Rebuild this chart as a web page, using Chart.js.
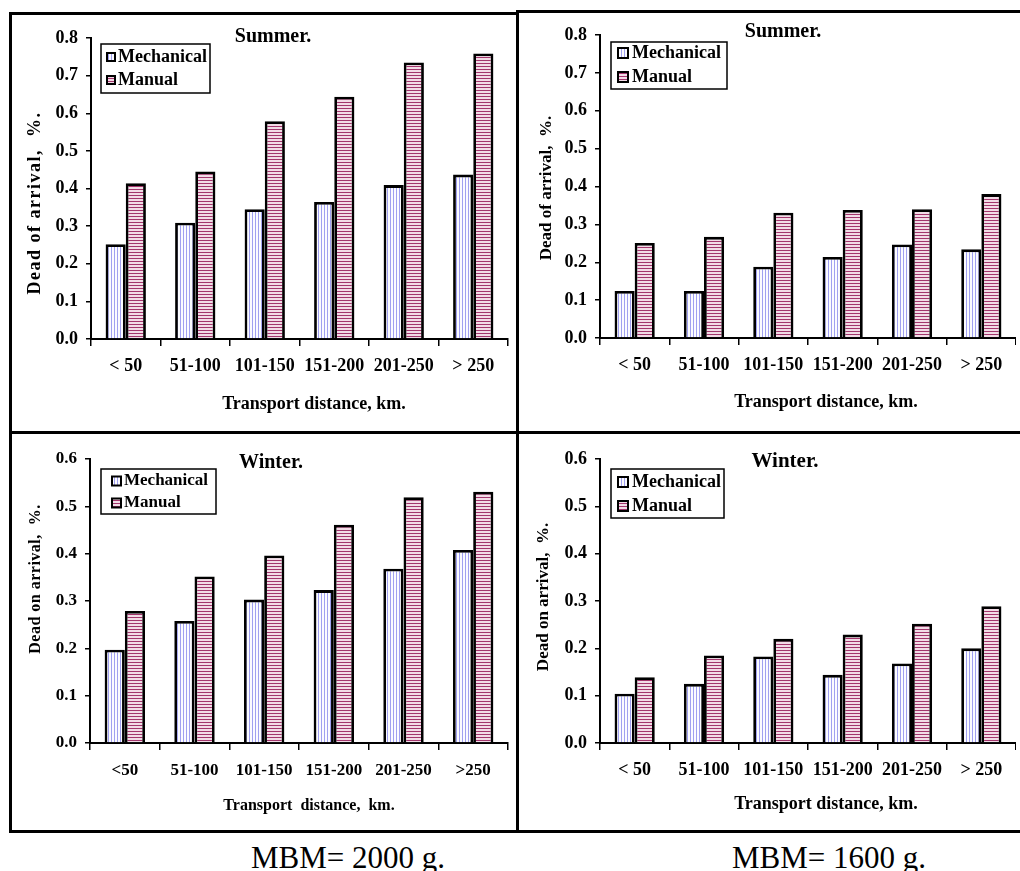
<!DOCTYPE html>
<html>
<head>
<meta charset="utf-8">
<script src="https://cdn.jsdelivr.net/npm/chart.js@4.4.1/dist/chart.umd.min.js"></script>
<style>
  html, body { margin: 0; padding: 0; background: #fff; }
  body { width: 1020px; height: 871px; position: relative; overflow: hidden; font-family: "Liberation Serif", "Times New Roman", serif; }
  canvas { position: absolute; }
  .ln { position: absolute; background: #000; }
  .cap { position: absolute; font-family: "Liberation Serif", serif; font-size: 31px; color: #000; white-space: nowrap; transform: translateX(-50%); }
</style>
</head>
<body>
<div class="ln" style="left:9px;top:12px;width:510px;height:3px"></div>
<div class="ln" style="left:517px;top:10px;width:503px;height:3px"></div>
<div class="ln" style="left:9px;top:12px;width:3px;height:821px"></div>
<div class="ln" style="left:516px;top:10px;width:3px;height:823px"></div>
<div class="ln" style="left:9px;top:431px;width:1011px;height:3px"></div>
<div class="ln" style="left:9px;top:830px;width:1011px;height:3px"></div>

<canvas id="c1" width="504" height="415" style="left:12px;top:15px"></canvas>
<canvas id="c2" width="497" height="417" style="left:519px;top:13px"></canvas>
<canvas id="c3" width="504" height="396" style="left:12px;top:434px"></canvas>
<canvas id="c4" width="497" height="396" style="left:519px;top:434px"></canvas>

<div class="cap" style="left:348px;top:840px">MBM= 2000 g.</div>
<div class="cap" style="left:829px;top:840px">MBM= 1600 g.</div>

<script>
// ---------- DATA ----------
const categoriesA = ["< 50", "51-100", "101-150", "151-200", "201-250", "> 250"];
const categoriesB = ["<50", "51-100", "101-150", "151-200", "201-250", ">250"];
const seriesNames = ["Mechanical", "Manual"];

// MBM = 2000 g, Summer
const summer2000Mechanical = [0.252, 0.309, 0.345, 0.364, 0.409, 0.437];
const summer2000Manual     = [0.414, 0.445, 0.579, 0.644, 0.735, 0.759];
// MBM = 1600 g, Summer
const summer1600Mechanical = [0.124, 0.124, 0.188, 0.214, 0.247, 0.234];
const summer1600Manual     = [0.251, 0.267, 0.331, 0.338, 0.340, 0.380];
// MBM = 2000 g, Winter
const winter2000Mechanical = [0.197, 0.258, 0.303, 0.323, 0.368, 0.408];
const winter2000Manual     = [0.279, 0.352, 0.396, 0.461, 0.519, 0.531];
// MBM = 1600 g, Winter
const winter1600Mechanical = [0.104, 0.125, 0.183, 0.144, 0.168, 0.200];
const winter1600Manual     = [0.139, 0.185, 0.220, 0.229, 0.252, 0.289];

const summerMax = 0.8, winterMax = 0.6, tickStep = 0.1;

// ---------- PATTERNS ----------
function makePattern(kind) {
  const t = document.createElement('canvas');
  t.width = 3; t.height = 3;
  const g = t.getContext('2d');
  if (kind === 'v') {
    g.fillStyle = '#fbfbff'; g.fillRect(0, 0, 3, 3);
    g.fillStyle = '#a0a0f0'; g.fillRect(0, 0, 1, 3);
  } else {
    g.fillStyle = '#f2dbe6'; g.fillRect(0, 0, 3, 3);
    g.fillStyle = '#a2356c'; g.fillRect(0, 0, 3, 1);
  }
  return document.createElement('canvas').getContext('2d').createPattern(t, 'repeat');
}
const patMech = makePattern('v');
const patMan = makePattern('h');

const FONT = '"Liberation Serif", "Times New Roman", serif';

// ---------- ANNOTATION PLUGIN ----------
const panelPlugin = {
  id: 'panelDeco',
  afterDraw(chart) {
    const p = chart.options.plugins.panelDeco;
    if (!p) return;
    const ctx = chart.ctx;
    const ox = p.canvasLeft, oy = p.canvasTop;
    ctx.save();
    ctx.fillStyle = '#000';
    // heading
    ctx.font = 'bold ' + p.headSize + 'px ' + FONT;
    ctx.textAlign = 'center'; ctx.textBaseline = 'middle';
    ctx.fillText(p.heading, p.headX - ox, p.headY - oy);
    // x title
    ctx.font = 'bold ' + p.xtSize + 'px ' + FONT;
    ctx.fillText(p.xTitle, p.xtX - ox, p.xtY - oy);
    // y title
    ctx.save();
    ctx.translate(p.ytX - ox, p.ytY - oy);
    ctx.rotate(-Math.PI / 2);
    ctx.font = 'bold ' + p.ytSize + 'px ' + FONT;
    if ('letterSpacing' in ctx) ctx.letterSpacing = p.ytSpacing + 'px';
    ctx.fillText(p.yTitle, 0, 0);
    ctx.restore();
    // legend
    const L = p.legend;
    ctx.lineWidth = 1.5; ctx.strokeStyle = '#000';
    ctx.strokeRect(L.x1 - ox, L.y1 - oy, L.x2 - L.x1, L.y2 - L.y1);
    ctx.font = 'bold ' + L.size + 'px ' + FONT;
    ctx.textAlign = 'left'; ctx.textBaseline = 'middle';
    chart.data.datasets.forEach((ds, i) => {
      const cy = L.rows[i] - oy;
      const sx = L.sx - ox;
      ctx.fillStyle = ds.backgroundColor;
      ctx.fillRect(sx, cy - L.sw / 2, L.sw, L.sw);
      ctx.lineWidth = 2; ctx.strokeStyle = '#000';
      ctx.strokeRect(sx, cy - L.sw / 2, L.sw, L.sw);
      ctx.fillStyle = '#000';
      ctx.fillText(ds.label, L.tx - ox, cy);
    });
    ctx.restore();
  }
};

function buildChart(id, canvasRect, plotRect, cats, mech, man, ymax, deco, tickSize) {
  const padTop = plotRect.top - canvasRect.top;
  const padRight = (canvasRect.left + canvasRect.width) - plotRect.right;
  const yW = plotRect.left - canvasRect.left;
  const xH = (canvasRect.top + canvasRect.height) - plotRect.bottom;
  deco.canvasLeft = canvasRect.left; deco.canvasTop = canvasRect.top;
  return new Chart(document.getElementById(id), {
    type: 'bar',
    data: {
      labels: cats,
      datasets: [
        { label: seriesNames[0], data: mech, backgroundColor: patMech, borderColor: '#000', borderWidth: 2.8 },
        { label: seriesNames[1], data: man, backgroundColor: patMan, borderColor: '#000', borderWidth: 2.8 }
      ]
    },
    options: {
      responsive: false,
      animation: false,
      events: [],
      layout: { padding: { top: padTop, right: padRight, left: 0, bottom: 0 } },
      datasets: { bar: { categoryPercentage: 0.58, barPercentage: 1.0 } },
      plugins: {
        legend: { display: false },
        tooltip: { enabled: false },
        title: { display: false },
        panelDeco: deco
      },
      scales: {
        x: {
          grid: { offset: true, drawOnChartArea: false, drawTicks: true, tickLength: 7, color: '#000', lineWidth: 1.5 },
          border: { display: true, color: '#000', width: 2 },
          ticks: { color: '#000', padding: 10, maxRotation: 0, autoSkip: false,
                   font: { family: FONT, size: tickSize, weight: 'bold' } },
          afterFit(s) { s.height = xH; }
        },
        y: {
          min: 0, max: ymax,
          grid: { drawOnChartArea: false, drawTicks: true, tickLength: 5, color: '#000', lineWidth: 1.5 },
          border: { display: true, color: '#000', width: 2 },
          ticks: { color: '#000', stepSize: tickStep, padding: 8,
                   font: { family: FONT, size: tickSize, weight: 'bold' },
                   callback: v => Number(v).toFixed(1) },
          afterFit(s) { s.width = yW; }
        }
      }
    },
    plugins: [panelPlugin]
  });
}

// Top-left: Summer, 2000 g
buildChart('c1', { left: 12, top: 15, width: 504, height: 415 }, { left: 91, top: 38, right: 508, bottom: 339 },
  categoriesA, summer2000Mechanical, summer2000Manual, summerMax, {
    heading: 'Summer.', headX: 273, headY: 37, headSize: 20,
    xTitle: 'Transport distance, km.', xtX: 314, xtY: 404, xtSize: 18,
    yTitle: 'Dead of arrival,  %.', ytX: 35, ytY: 203, ytSize: 18, ytSpacing: 1.5,
    legend: { x1: 101, y1: 44, x2: 210, y2: 93, rows: [57, 80], sx: 107, sw: 8, tx: 118, size: 18 }
  }, 18);

// Top-right: Summer, 1600 g
buildChart('c2', { left: 519, top: 13, width: 497, height: 417 }, { left: 600, top: 35, right: 1016, bottom: 338 },
  categoriesA, summer1600Mechanical, summer1600Manual, summerMax, {
    heading: 'Summer.', headX: 783, headY: 32, headSize: 20,
    xTitle: 'Transport distance, km.', xtX: 826, xtY: 402, xtSize: 18,
    yTitle: 'Dead of arrival,  %.', ytX: 547, ytY: 188, ytSize: 17, ytSpacing: 0,
    legend: { x1: 611, y1: 42, x2: 727, y2: 89, rows: [53, 77], sx: 618, sw: 10, tx: 632, size: 18 }
  }, 18);

// Bottom-left: Winter, 2000 g
buildChart('c3', { left: 12, top: 434, width: 504, height: 396 }, { left: 90, top: 459, right: 508, bottom: 743 },
  categoriesB, winter2000Mechanical, winter2000Manual, winterMax, {
    heading: 'Winter.', headX: 271, headY: 463, headSize: 20,
    xTitle: 'Transport  distance,  km.', xtX: 309, xtY: 806, xtSize: 16,
    yTitle: 'Dead on arrival,  %.', ytX: 36, ytY: 579, ytSize: 16, ytSpacing: 0.5,
    legend: { x1: 101, y1: 469, x2: 216, y2: 514, rows: [481, 503], sx: 112, sw: 9, tx: 124, size: 17 }
  }, 17);

// Bottom-right: Winter, 1600 g
buildChart('c4', { left: 519, top: 434, width: 497, height: 396 }, { left: 600, top: 459, right: 1016, bottom: 743 },
  categoriesA, winter1600Mechanical, winter1600Manual, winterMax, {
    heading: 'Winter.', headX: 785, headY: 462, headSize: 21,
    xTitle: 'Transport distance, km.', xtX: 826, xtY: 804, xtSize: 18,
    yTitle: 'Dead on arrival,  %.', ytX: 544, ytY: 597, ytSize: 17, ytSpacing: 0,
    legend: { x1: 611, y1: 469, x2: 724, y2: 518, rows: [482, 506], sx: 618, sw: 10, tx: 632, size: 18 }
  }, 18);
</script>
</body>
</html>
